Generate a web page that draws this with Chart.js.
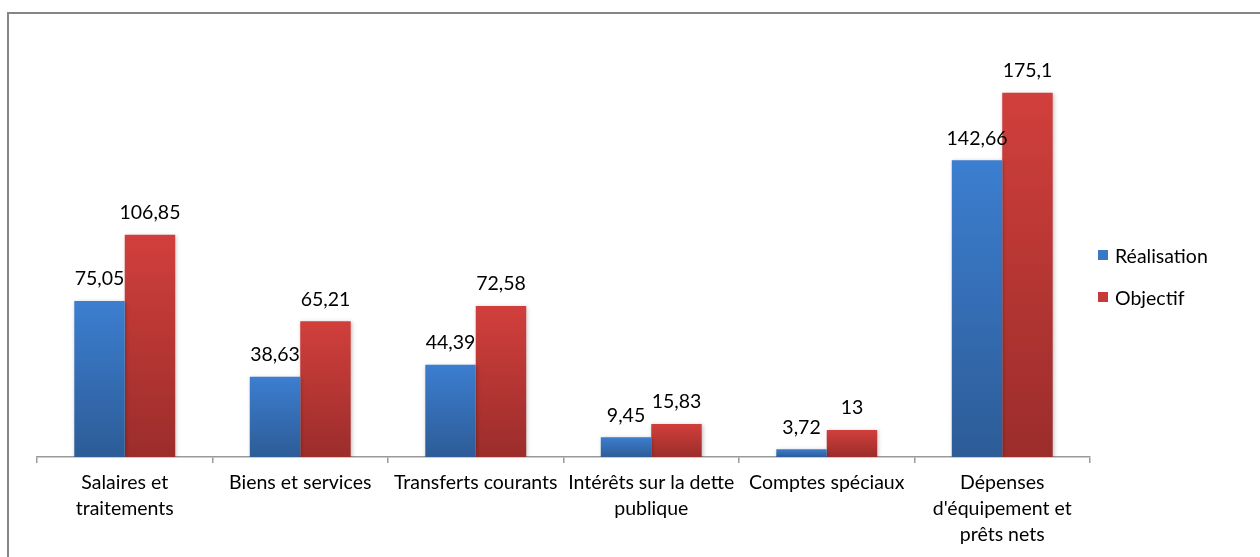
<!DOCTYPE html>
<html>
<head>
<meta charset="utf-8">
<script src="https://cdn.jsdelivr.net/npm/chart.js@4.4.1/dist/chart.umd.min.js"></script>
<style>
  html, body { margin: 0; padding: 0; background: #fff; overflow: hidden; }
  #wrap { position: relative; width: 1260px; height: 557px; }
  #frame { position: absolute; left: 7px; top: 12px; width: 1300px; height: 600px; border: 2px solid #868686; box-sizing: border-box; }
  #c { position: absolute; left: 0; top: 0; }
  #legend { position: absolute; left: 1098px; top: 242px; font-family: Lato, "Open Sans", sans-serif; font-size: 19.5px; color: #000; }
  .li { display: flex; align-items: center; height: 26px; margin-bottom: 16px; }
  .sw { width: 10px; height: 10px; margin-right: 7px; }
</style>
</head>
<body>
<div id="wrap">
  <div id="frame"></div>
  <canvas id="c" width="1260" height="557"></canvas>
  <div id="legend"></div>
</div>
<script>
const categories = [
  ["Salaires et", "traitements"],
  "Biens et services",
  "Transferts courants",
  ["Intérêts sur la dette", "publique"],
  "Comptes spéciaux",
  ["Dépenses", "d'équipement et", "prêts nets"]
];
const seriesNames = ["Réalisation", "Objectif"];
const realisation = [75.05, 38.63, 44.39, 9.45, 3.72, 142.66];
const objectif = [106.85, 65.21, 72.58, 15.83, 13, 175.1];

const FONT = 'Lato, "Open Sans", sans-serif';
const FSIZE = 19.5;

function gradFill(top, bottom) {
  return function (ctx) {
    const chart = ctx.chart;
    if (!chart.chartArea || ctx.type !== 'data') return top;
    const y = chart.scales.y;
    const v = ctx.parsed ? ctx.parsed.y : ctx.raw;
    const y0 = y.getPixelForValue(v);
    const y1 = y.getPixelForValue(0);
    if (!isFinite(y0) || !isFinite(y1) || y0 === y1) return top;
    const g = chart.ctx.createLinearGradient(0, y0, 0, y1);
    g.addColorStop(0, top);
    g.addColorStop(1, bottom);
    return g;
  };
}

const valueLabels = {
  id: 'valueLabels',
  afterDatasetsDraw(chart) {
    const ctx = chart.ctx;
    ctx.save();
    ctx.font = FSIZE + 'px ' + FONT;
    ctx.fillStyle = '#000';
    ctx.textAlign = 'center';
    ctx.textBaseline = 'middle';
    chart.data.datasets.forEach((ds, i) => {
      const meta = chart.getDatasetMeta(i);
      meta.data.forEach((bar, j) => {
        const txt = String(ds.data[j]).replace('.', ',');
        ctx.fillText(txt, bar.x, bar.y - 22);
      });
    });
    ctx.restore();
  }
};

const barShadow = {
  id: 'barShadow',
  beforeDatasetDraw(chart) {
    const ctx = chart.ctx;
    ctx.save();
    ctx.shadowColor = 'rgba(0,0,0,0.25)';
    ctx.shadowBlur = 4;
    ctx.shadowOffsetX = 1;
    ctx.shadowOffsetY = 1;
  },
  afterDatasetDraw(chart) {
    chart.ctx.restore();
  }
};

const colors = [
  { top: '#3c7ed0', bottom: '#2d5c97', legend: '#3a78c4' },
  { top: '#d13f3c', bottom: '#9b2d2b', legend: '#c83a38' }
];

const chart = new Chart(document.getElementById('c'), {
  type: 'bar',
  data: {
    labels: categories,
    datasets: [
      { label: seriesNames[0], data: realisation, backgroundColor: gradFill(colors[0].top, colors[0].bottom), borderWidth: 0 },
      { label: seriesNames[1], data: objectif, backgroundColor: gradFill(colors[1].top, colors[1].bottom), borderWidth: 0 }
    ]
  },
  options: {
    responsive: false,
    animation: false,
    devicePixelRatio: 1,
    layout: { padding: { left: 37, right: 170, top: 41, bottom: 0 } },
    datasets: { bar: { categoryPercentage: 0.575, barPercentage: 1.0 } },
    plugins: {
      legend: { display: false },
      tooltip: { enabled: false }
    },
    scales: {
      y: { display: false, min: 0, max: 200 },
      x: {
        afterFit(scale) { scale.height = 100; },
        grid: {
          offset: true,
          drawOnChartArea: false,
          drawTicks: true,
          tickLength: 6,
          color: '#9a9a9a',
          lineWidth: 1.5
        },
        border: { display: true, color: '#9a9a9a', width: 1.5 },
        ticks: {
          color: '#000',
          padding: 7,
          maxRotation: 0,
          autoSkip: false,
          font: { family: FONT, size: FSIZE, lineHeight: 26 / FSIZE }
        }
      }
    }
  },
  plugins: [barShadow, valueLabels]
});

// HTML legend built from the chart's datasets
const leg = document.getElementById('legend');
chart.data.datasets.forEach((ds, i) => {
  const row = document.createElement('div');
  row.className = 'li';
  const sw = document.createElement('span');
  sw.className = 'sw';
  sw.style.background = colors[i].legend;
  const t = document.createElement('span');
  t.textContent = ds.label;
  row.appendChild(sw);
  row.appendChild(t);
  leg.appendChild(row);
});
</script>
</body>
</html>
